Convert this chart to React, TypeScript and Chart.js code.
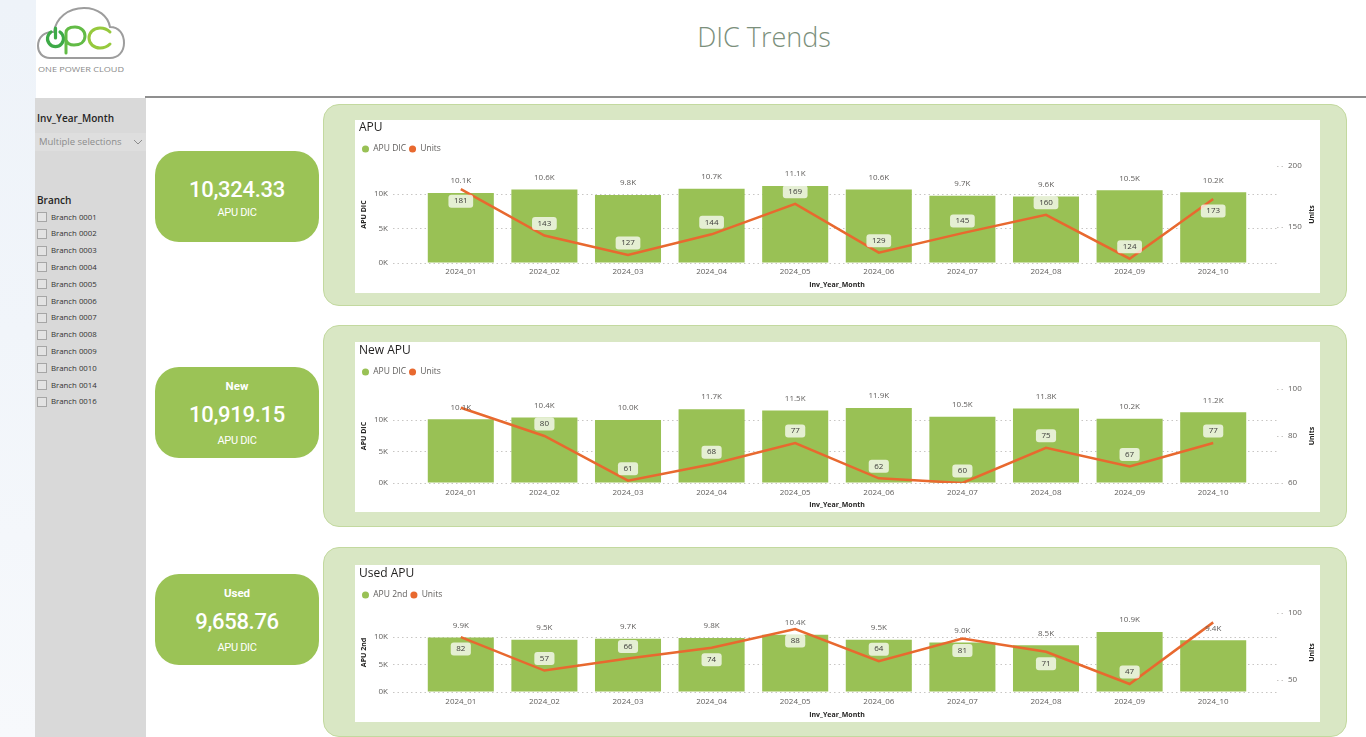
import React, { useEffect, useRef } from "react";
import { Chart, registerables, layouts } from "chart.js";

Chart.register(...registerables);

const FONT = '"Open Sans", "Noto Sans", sans-serif';
const KPI_FONT = 'Roboto, "Open Sans", sans-serif';

// ---------- data ----------
const months = ["2024_01", "2024_02", "2024_03", "2024_04", "2024_05", "2024_06", "2024_07", "2024_08", "2024_09", "2024_10"];

const apuDic = [10100, 10600, 9800, 10700, 11100, 10600, 9700, 9600, 10500, 10200];
const apuUnits = [181, 143, 127, 144, 169, 129, 145, 160, 124, 173];
const apuDicTicks = [0, 5000, 10000];
const apuUnitTicks = [150, 200];

const newApuDic = [10100, 10400, 10000, 11700, 11500, 11900, 10500, 11800, 10200, 11200];
const newApuUnits = [92, 80, 61, 68, 77, 62, 60, 75, 67, 77];
const newApuDicTicks = [0, 5000, 10000];
const newApuUnitTicks = [60, 80, 100];

const usedApu2nd = [9900, 9500, 9700, 9800, 10400, 9500, 9000, 8500, 10900, 9400];
const usedApuUnits = [82, 57, 66, 74, 88, 64, 81, 71, 47, 93];
const usedApu2ndTicks = [0, 5000, 10000];
const usedApuUnitTicks = [50, 100];

const branches = ["Branch 0001", "Branch 0002", "Branch 0003", "Branch 0004", "Branch 0005", "Branch 0006", "Branch 0007", "Branch 0008", "Branch 0009", "Branch 0010", "Branch 0014", "Branch 0016"];

const kpiCards = [
  { top: 151, pre: "", value: "10,324.33", sub: "APU DIC" },
  { top: 367, pre: "New", value: "10,919.15", sub: "APU DIC" },
  { top: 574, pre: "Used", value: "9,658.76", sub: "APU DIC" },
];

const BAR_GREEN = "#99C155";
const LINE_ORANGE = "#E8692F";

type ChartCfg = {
  title: string;
  barLabel: string;
  yTitle: string;
  bars: number[];
  units: number[];
  yTicks: number[];
  y1Ticks: number[];
  yMax: number;
  y1Min: number;
  y1Max: number;
  titlePadTop: number;
  titlePadBottom: number;
  gap: number;
  xTickPad: number;
  xTitlePadBottom: number;
  xAxisHeight: number;
};

const gridPlugin = {
  id: "pbiGrid",
  beforeDatasetsDraw(chart: any) {
    const { ctx, chartArea } = chart;
    const y = chart.scales.y;
    const y1 = chart.scales.y1;
    ctx.save();
    ctx.strokeStyle = "#c8c6c4";
    ctx.lineWidth = 1;
    ctx.setLineDash([1.5, 3]);
    y.ticks.forEach((t: any) => {
      const py = Math.round(y.getPixelForValue(t.value)) + 0.5;
      ctx.beginPath();
      ctx.moveTo(chartArea.left - 26, py);
      ctx.lineTo(chartArea.right + 23, py);
      ctx.stroke();
    });
    y1.ticks.forEach((t: any) => {
      const py = Math.round(y1.getPixelForValue(t.value)) + 0.5;
      ctx.beginPath();
      ctx.moveTo(chartArea.right + 22, py);
      ctx.lineTo(chartArea.right + 31, py);
      ctx.stroke();
    });
    ctx.restore();
  },
};

const labelPlugin = {
  id: "pbiLabels",
  afterDatasetsDraw(chart: any) {
    const { ctx, chartArea } = chart;
    const barMeta = chart.getDatasetMeta(0);
    const lineMeta = chart.getDatasetMeta(1);
    const bars = chart.data.datasets[0].data as number[];
    const units = chart.data.datasets[1].data as number[];
    ctx.save();
    ctx.font = `8px ${FONT}`;
    ctx.textAlign = "center";
    ctx.textBaseline = "middle";
    const barLabelY: number[] = [];
    barMeta.data.forEach((el: any, i: number) => {
      const yy = el.y - 12;
      barLabelY.push(yy);
      ctx.fillStyle = "#605e5c";
      ctx.fillText((bars[i] / 1000).toFixed(1) + "K", el.x, yy);
    });
    lineMeta.data.forEach((pt: any, i: number) => {
      const cands = [pt.y - 12, pt.y + 12];
      const pos = cands.find(
        (c) => c - 7 >= chartArea.top && c + 7 <= chartArea.bottom + 2 && Math.abs(c - barLabelY[i]) >= 14
      );
      if (pos === undefined) return;
      const text = String(units[i]);
      const w = ctx.measureText(text).width + 11;
      const h = 13;
      ctx.fillStyle = "rgba(255,255,255,0.74)";
      ctx.beginPath();
      ctx.roundRect(pt.x - w / 2, pos - h / 2, w, h, 3);
      ctx.fill();
      ctx.fillStyle = "#3b3a39";
      ctx.fillText(text, pt.x, pos);
    });
    // right axis title, rotated like Power BI (bottom-to-top)
    ctx.save();
    ctx.font = `bold 7px ${FONT}`;
    ctx.fillStyle = "#252423";
    ctx.translate(chartArea.right + 57, (chartArea.top + chartArea.bottom) / 2);
    ctx.rotate(-Math.PI / 2);
    ctx.fillText("Units", 0, 0);
    ctx.restore();
    ctx.restore();
  },
};

function makeSpacer(gap: number) {
  return {
    id: "spacer",
    beforeInit(chart: any) {
      const box: any = {
        position: "top",
        weight: 500,
        fullSize: true,
        options: {},
        left: 0,
        top: 0,
        right: 0,
        bottom: 0,
        width: 0,
        height: 0,
        isHorizontal() {
          return true;
        },
        update(maxWidth: number) {
          this.width = maxWidth;
          this.height = gap;
        },
        draw() {},
      };
      layouts.addBox(chart, box);
    },
  };
}

function ComboChart({ cfg, left, top, width, height }: { cfg: ChartCfg; left: number; top: number; width: number; height: number }) {
  const ref = useRef<HTMLCanvasElement | null>(null);
  useEffect(() => {
    if (!ref.current) return;
    const tickFont = { family: FONT, size: 8 };
    const axisTitleFont = { family: FONT, size: 7, weight: "bold" as const };
    const hiddenTicks = (len: number) => ({
      display: true,
      drawOnChartArea: false,
      drawTicks: true,
      tickLength: len,
      tickColor: "rgba(0,0,0,0)",
      color: "rgba(0,0,0,0)",
    });
    const chart = new Chart(ref.current, {
      type: "bar",
      data: {
        labels: months,
        datasets: [
          {
            type: "bar",
            label: cfg.barLabel,
            data: cfg.bars,
            backgroundColor: BAR_GREEN,
            yAxisID: "y",
            order: 1,
            barPercentage: 0.79,
            categoryPercentage: 1,
          } as any,
          {
            type: "line",
            label: "Units",
            data: cfg.units,
            borderColor: LINE_ORANGE,
            backgroundColor: LINE_ORANGE,
            borderWidth: 2.5,
            pointRadius: 0,
            tension: 0,
            yAxisID: "y1",
            order: 0,
          } as any,
        ],
      },
      options: {
        animation: false,
        responsive: false,
        maintainAspectRatio: false,
        devicePixelRatio: 1,
        layout: { padding: { left: 4, right: 0, top: 0, bottom: 0 } },
        plugins: {
          tooltip: { enabled: false },
          title: {
            display: true,
            text: cfg.title,
            align: "start",
            color: "#201f1e",
            font: { family: FONT, size: 12, weight: "normal" },
            padding: { top: cfg.titlePadTop, bottom: cfg.titlePadBottom },
          },
          legend: {
            display: true,
            align: "start",
            labels: {
              usePointStyle: true,
              pointStyle: "circle",
              boxWidth: 7,
              boxHeight: 5,
              padding: 3,
              color: "#605e5c",
              font: { family: FONT, size: 8.5 },
              sort: (a: any, b: any) => a.datasetIndex - b.datasetIndex,
              generateLabels: (c: any) =>
                (Chart.defaults.plugins.legend.labels.generateLabels as any)(c).map((l: any) => ({
                  ...l,
                  lineWidth: 0,
                  strokeStyle: "rgba(0,0,0,0)",
                })),
            },
          },
        },
        scales: {
          x: {
            grid: { display: false, drawTicks: false },
            border: { display: false },
            ticks: { color: "#605e5c", font: tickFont, padding: cfg.xTickPad, maxRotation: 0, autoSkip: false },
            title: {
              display: true,
              text: "Inv_Year_Month",
              color: "#252423",
              font: axisTitleFont,
              padding: { top: 0, bottom: cfg.xTitlePadBottom },
            },
            afterFit: (s: any) => {
              s.height = cfg.xAxisHeight;
            },
          },
          y: {
            position: "left",
            min: 0,
            max: cfg.yMax,
            grid: hiddenTicks(31),
            border: { display: false },
            afterBuildTicks: (s: any) => {
              s.ticks = cfg.yTicks.map((v) => ({ value: v }));
            },
            ticks: {
              padding: 0,
              color: "#605e5c",
              font: tickFont,
              callback: (v: any) => Number(v) / 1000 + "K",
            },
            title: { display: true, text: cfg.yTitle, color: "#252423", font: axisTitleFont, padding: { top: 0.3, bottom: 0 } },
            afterFit: (s: any) => {
              s.width = 60;
            },
          },
          y1: {
            position: "right",
            min: cfg.y1Min,
            max: cfg.y1Max,
            grid: hiddenTicks(33),
            border: { display: false },
            afterBuildTicks: (s: any) => {
              s.ticks = cfg.y1Ticks.map((v) => ({ value: v }));
            },
            ticks: { padding: 0, color: "#605e5c", font: tickFont },
            afterFit: (s: any) => {
              s.width = 65;
            },
          },
        },
      } as any,
      plugins: [makeSpacer(cfg.gap), gridPlugin, labelPlugin],
    });
    return () => chart.destroy();
  }, [cfg, height]);
  return (
    <canvas
      ref={ref}
      width={width}
      height={height}
      style={{ position: "absolute", left, top, width, height }}
    />
  );
}

const chartApu: ChartCfg = {
  title: "APU",
  barLabel: "APU DIC",
  yTitle: "APU DIC",
  bars: apuDic,
  units: apuUnits,
  yTicks: apuDicTicks,
  y1Ticks: apuUnitTicks,
  yMax: 14000,
  y1Min: 120.5,
  y1Max: 200,
  titlePadTop: 0.8,
  titlePadBottom: 6.55,
  gap: 2.75,
  xTickPad: 4.2,
  xTitlePadBottom: 3.8,
  xAxisHeight: 30,
};

const chartNew: ChartCfg = {
  title: "New APU",
  barLabel: "APU DIC",
  yTitle: "APU DIC",
  bars: newApuDic,
  units: newApuUnits,
  yTicks: newApuDicTicks,
  y1Ticks: newApuUnitTicks,
  yMax: 14900,
  y1Min: 60,
  y1Max: 100,
  titlePadTop: 1.8,
  titlePadBottom: 6.55,
  gap: 2.75,
  xTickPad: 5.2,
  xTitlePadBottom: 2.8,
  xAxisHeight: 29,
};

const chartUsed: ChartCfg = {
  title: "Used APU",
  barLabel: "APU 2nd",
  yTitle: "APU 2nd",
  bars: usedApu2nd,
  units: usedApuUnits,
  yTicks: usedApu2ndTicks,
  y1Ticks: usedApuUnitTicks,
  yMax: 14360,
  y1Min: 41,
  y1Max: 100,
  titlePadTop: 1.8,
  titlePadBottom: 6.55,
  gap: 3.75,
  xTickPad: 5.2,
  xTitlePadBottom: 2.8,
  xAxisHeight: 30,
};

const panels = [
  { outerTop: 104, outerH: 202, innerTop: 120, innerH: 173, cfg: chartApu },
  { outerTop: 325, outerH: 202, innerTop: 342, innerH: 170, cfg: chartNew },
  { outerTop: 547, outerH: 190, innerTop: 565, innerH: 157, cfg: chartUsed },
];

function Logo() {
  return (
    <svg width={160} height={80} style={{ position: "absolute", left: 0, top: 0 }}>
      <path
        d="M50 58 C42 58, 38 52, 38 46 C38 37, 45 31, 54 32 C56 18, 68 8, 84 8 C98 8, 108 16, 110 27 C119 27, 124 34, 124 43 C124 52, 118 58, 110 58 Z"
        fill="none"
        stroke="#9d9d9d"
        strokeWidth={2}
      />
      <path d="M51 32 A8 8 0 1 0 60 32" fill="none" stroke="#3daa47" strokeWidth={3.2} strokeLinecap="round" />
      <line x1={55.5} y1={28} x2={55.5} y2={38} stroke="#3daa47" strokeWidth={3.2} strokeLinecap="round" />
      <path d="M66 53 L66 33 C66 28, 71 27, 75 27 C81 27, 85 31, 85 36 C85 42, 80 45, 74 45 C70 45, 67 43, 66 40" fill="none" stroke="#62bb46" strokeWidth={3} strokeLinecap="round" />
      <path d="M110 32 C107 29, 104 28, 100 28 C93 28, 89 33, 89 38 C89 44, 94 48, 100 48 C104 48, 107 47, 110 44" fill="none" stroke="#96c93d" strokeWidth={3} strokeLinecap="round" />
      <text x={38} y={71.5} textLength={86} lengthAdjust="spacingAndGlyphs" fontFamily={FONT} fontSize={6.3} fill="#8a8a8a">
        ONE POWER CLOUD
      </text>
    </svg>
  );
}

export default function App() {
  return (
    <div
      style={{
        position: "fixed",
        left: 0,
        top: 0,
        width: 1366,
        height: 737,
        overflow: "hidden",
        background: "#ffffff",
        fontFamily: FONT,
      }}
    >
      <div
        style={{
          position: "absolute",
          left: 0,
          top: 0,
          width: 36,
          height: 737,
          background: "linear-gradient(180deg, #eef3f9 0%, #f1f5fa 45%, #f7f9fc 100%)",
        }}
      />
      <Logo />
      <div
        style={{
          position: "absolute",
          left: 0,
          width: 1528,
          top: 17,
          textAlign: "center",
          fontSize: 27,
          fontWeight: 300,
          color: "#7b8f7b",
          lineHeight: "40px",
        }}
      >
        DIC Trends
      </div>
      <div style={{ position: "absolute", left: 145, top: 96, width: 1221, height: 2, background: "#8f8f8f" }} />

      {/* sidebar */}
      <div style={{ position: "absolute", left: 35, top: 98, width: 111, height: 639, background: "#d9d9d9" }} />
      <div style={{ position: "absolute", left: 37, top: 110, fontSize: 10, fontWeight: 600, color: "#252423", lineHeight: "16px" }}>
        Inv_Year_Month
      </div>
      <div style={{ position: "absolute", left: 35, top: 133, width: 111, height: 18, background: "#dedede" }} />
      <div style={{ position: "absolute", left: 39, top: 134, fontSize: 9.5, color: "#8c8c8c", lineHeight: "16px" }}>
        Multiple selections
      </div>
      <svg width={10} height={8} style={{ position: "absolute", left: 133, top: 138 }}>
        <path d="M1 2 L5 6 L9 2" fill="none" stroke="#8c8c8c" strokeWidth={1} />
      </svg>
      <div style={{ position: "absolute", left: 37, top: 192, fontSize: 10, fontWeight: 600, color: "#252423", lineHeight: "16px" }}>
        Branch
      </div>
      {branches.map((b, i) => (
        <React.Fragment key={b}>
          <div
            style={{
              position: "absolute",
              left: 37,
              top: 212 + i * 16.8,
              width: 8,
              height: 8,
              border: "1px solid #a6a6a6",
              background: "#e3e3e3",
            }}
          />
          <div
            style={{
              position: "absolute",
              left: 51,
              top: 209.5 + i * 16.8,
              fontSize: 7.8,
              color: "#333333",
              lineHeight: "14px",
              whiteSpace: "nowrap",
            }}
          >
            {b}
          </div>
        </React.Fragment>
      ))}

      {/* KPI cards */}
      {kpiCards.map((k) => (
        <div
          key={k.value}
          style={{
            position: "absolute",
            left: 155,
            top: k.top,
            width: 164,
            height: 91,
            borderRadius: 24,
            background: "#9bc356",
            color: "#ffffff",
            fontFamily: KPI_FONT,
            textAlign: "center",
          }}
        >
          {k.pre ? (
            <div style={{ position: "absolute", left: 0, right: 0, top: 12, fontSize: 11.5, fontWeight: 700, lineHeight: "14px" }}>
              {k.pre}
            </div>
          ) : null}
          <div
            style={{
              position: "absolute",
              left: 0,
              right: 0,
              top: k.pre ? 34 : 25,
              fontSize: 22,
              fontWeight: 500,
              letterSpacing: -0.3,
              lineHeight: "28px",
            }}
          >
            {k.value}
          </div>
          <div
            style={{
              position: "absolute",
              left: 0,
              right: 0,
              top: k.pre ? 67 : 55,
              fontSize: 11,
              letterSpacing: -0.3,
              lineHeight: "14px",
            }}
          >
            {k.sub}
          </div>
        </div>
      ))}

      {/* chart panels */}
      {panels.map((p) => (
        <React.Fragment key={p.cfg.title}>
          <div
            style={{
              position: "absolute",
              left: 323,
              top: p.outerTop,
              width: 1024,
              height: p.outerH,
              borderRadius: 16,
              background: "#d9e7c4",
              border: "1.5px solid #c3d99f",
              boxSizing: "border-box",
            }}
          />
          <div style={{ position: "absolute", left: 355, top: p.innerTop, width: 965, height: p.innerH, background: "#ffffff" }} />
          <ComboChart cfg={p.cfg} left={355} top={p.innerTop} width={965} height={p.innerH} />
        </React.Fragment>
      ))}
    </div>
  );
}
